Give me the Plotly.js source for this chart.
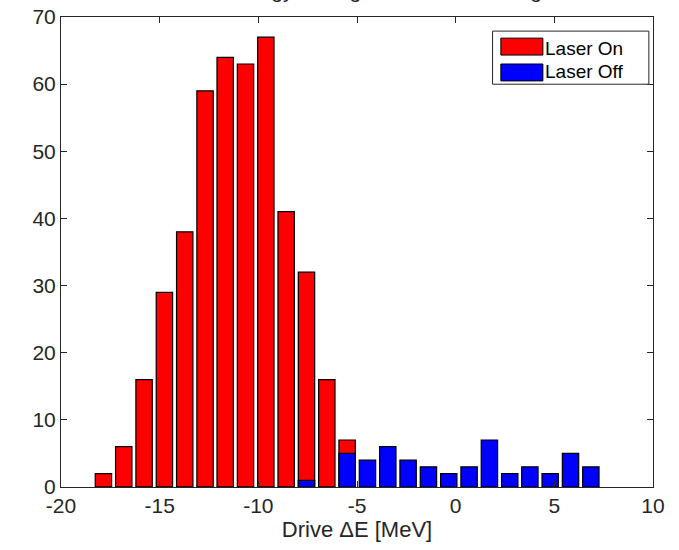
<!DOCTYPE html>
<html>
<head>
<meta charset="utf-8">
<script src="https://cdn.plot.ly/plotly-3.0.1.min.js"></script>
<style>
html,body{margin:0;padding:0;background:#fff;}
#chart{width:679px;height:550px;}
</style>
</head>
<body>
<div id="chart"></div>
<script>
// Bin centres (MeV)
const binCenters = [-17.85, -16.82, -15.79, -14.76, -13.73, -12.70, -11.68, -10.65, -9.62, -8.59,
                    -7.56, -6.53, -5.50, -4.47, -3.44, -2.41, -1.38, -0.35, 0.68, 1.71,
                    2.74, 3.76, 4.79, 5.82, 6.85];
// Counts
const laserOn  = [2, 6, 16, 29, 38, 59, 64, 63, 67, 41, 32, 16, 7, 0, 0, 0, 0, 0, 0, 0, 0, 0, 0, 0, 0];
const laserOff = [0, 0, 0, 0, 0, 0, 0, 0, 0, 0, 1, 0, 5, 4, 6, 4, 3, 2, 3, 7, 2, 3, 2, 5, 3];
const seriesNames = ['Laser On', 'Laser Off'];
const xTicks = [-20, -15, -10, -5, 0, 5, 10];
const yTicks = [0, 10, 20, 30, 40, 50, 60, 70];
const titleText = 'Drive Energy Change with Laser Timing';

const font = 'Liberation Sans, Arial, Helvetica, sans-serif';
const axisColor = '#262626';

const traces = [
  {type:'bar', x:binCenters, y:laserOn, name:seriesNames[0], width:0.83,
   marker:{color:'#ff0000', line:{color:'#000', width:1.2}}, hoverinfo:'x+y'},
  {type:'bar', x:binCenters, y:laserOff, name:seriesNames[1], width:0.83,
   marker:{color:'#0000ff', line:{color:'#000', width:1.2}}, hoverinfo:'x+y'}
];

const layout = {
  width:679, height:550,
  margin:{l:61, r:26, t:17, b:63},
  paper_bgcolor:'#fff', plot_bgcolor:'#fff',
  barmode:'overlay',
  showlegend:false,
  font:{family:font, color:axisColor, size:21},
  xaxis:{range:[-20,10], tickvals:xTicks, ticktext:xTicks.map(v=>v<0?'-'+Math.abs(v):String(v)),
         ticks:'inside', ticklen:6, tickcolor:axisColor, tickwidth:1,
         showline:true, linecolor:axisColor, linewidth:1, mirror:'ticks',
         showgrid:false, zeroline:false, tickfont:{size:21, family:font, color:axisColor},
         title:{text:'Drive \u0394E [MeV]', font:{size:22, family:font, color:axisColor}, standoff:4}},
  yaxis:{range:[0,70], tickvals:yTicks, ticks:'inside', ticklen:6, tickcolor:axisColor, tickwidth:1,
         showline:true, linecolor:axisColor, linewidth:1, mirror:'ticks',
         showgrid:false, zeroline:false, tickfont:{size:21, family:font, color:axisColor}},
  shapes:[
    {type:'rect', xref:'paper', yref:'paper', x0:0.729, x1:0.993, y0:0.857, y1:0.970,
     line:{color:axisColor, width:1}, fillcolor:'#fff'},
    {type:'rect', xref:'paper', yref:'paper', x0:0.743, x1:0.814, y0:0.919, y1:0.955,
     line:{color:'#000', width:1}, fillcolor:'#ff0000'},
    {type:'rect', xref:'paper', yref:'paper', x0:0.743, x1:0.814, y0:0.864, y1:0.900,
     line:{color:'#000', width:1}, fillcolor:'#0000ff'}
  ],
  annotations:[
    {xref:'paper', yref:'paper', x:0.815, y:0.934, xanchor:'left', yanchor:'middle',
     text:seriesNames[0], showarrow:false, font:{size:19, family:font, color:'#000'}},
    {xref:'paper', yref:'paper', x:0.815, y:0.884, xanchor:'left', yanchor:'middle',
     text:seriesNames[1], showarrow:false, font:{size:19, family:font, color:'#000'}},
    {xref:'paper', yref:'paper', x:0.5, y:1, xanchor:'center', yanchor:'bottom', yshift:13,
     text:titleText, showarrow:false, font:{size:21, family:font, color:axisColor}}
  ]
};

Plotly.newPlot('chart', traces, layout, {displayModeBar:false, staticPlot:true});
</script>
</body>
</html>
